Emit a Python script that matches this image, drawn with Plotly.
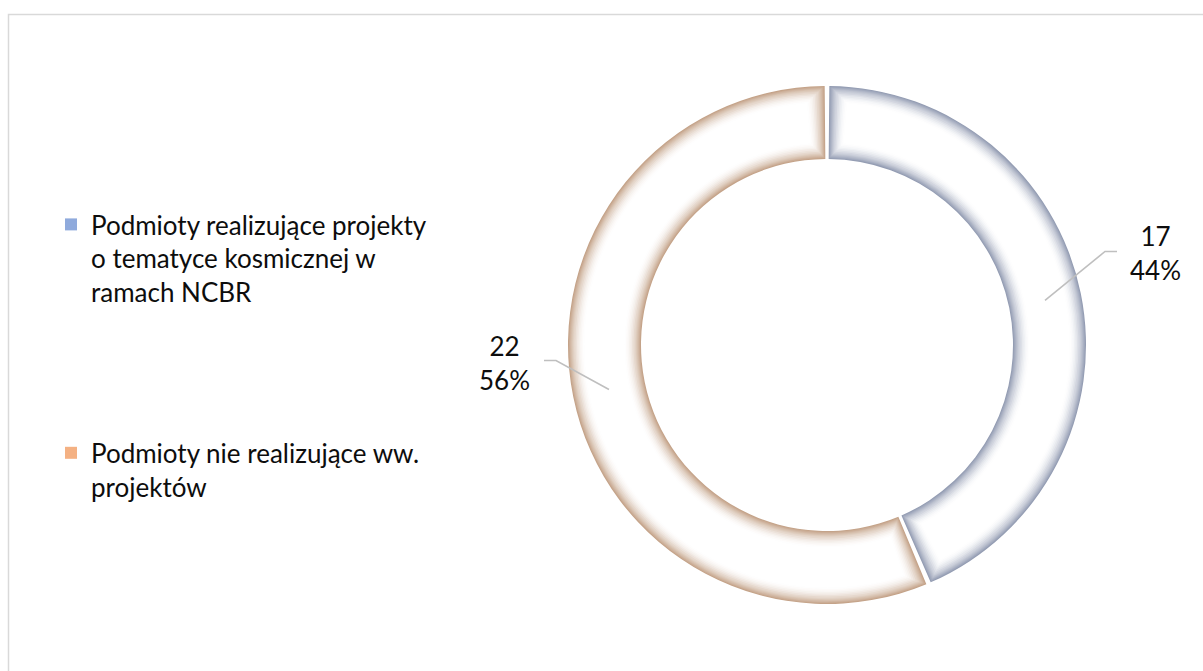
import math
import plotly.graph_objects as go

# --- data -------------------------------------------------------------
categories = [
    "Podmioty realizujące projekty<br>o tematyce kosmicznej w<br>ramach NCBR",
    "Podmioty nie realizujące ww.<br>projektów",
]
counts = [17, 22]
legend_colors = ["#8faadc", "#f4b183"]
edge_colors = ["#949db3", "#c4a389"]

# --- geometry (pixels) ------------------------------------------------
W, H = 1203, 671
CX, CY = 827, 345
R_OUT, R_IN = 259, 186
RHO = (R_OUT + R_IN) / 2
HALF_GAP = 2.0
FONT = "Lato, 'Open Sans', sans-serif"
FONT_SIZE = 26

# label placement relative to the ring point at each slice's mid-angle
label_offsets = [(110, -47), (-104, -27)]
bend_offsets = [(60, -49), (-53, -29)]
tail_len = 12

total = sum(counts)


def mix(hex_color, t):
    """Blend hex_color with white; t=1 gives the colour, t=0 white."""
    h = hex_color.lstrip("#")
    rgb = [int(h[i:i + 2], 16) for i in (0, 2, 4)]
    out = [round(255 + (c - 255) * t) for c in rgb]
    return "rgb({},{},{})".format(*out)


def paper(x, y):
    return x / W, 1 - y / H


def domain_for(radius, cx=CX, cy=CY):
    x0, y1 = paper(cx - radius, cy - radius)
    x1, y0 = paper(cx + radius, cy + radius)
    return dict(x=[x0, x1], y=[y0, y1])


fig = go.Figure()

# mid-angle of every slice (clockwise from 12 o'clock)
mid_angles = []
cum = 0
for v in counts:
    mid_angles.append(2 * math.pi * (cum + v / 2) / total)
    cum += v
mid_points = [(CX + RHO * math.sin(a), CY - RHO * math.cos(a)) for a in mid_angles]

# legend entries: one tiny pie per category, hidden beneath the ring
for i, (cat, v) in enumerate(zip(categories, counts)):
    mx, my = mid_points[i]
    fig.add_trace(go.Pie(
        labels=[cat], values=[v], marker=dict(colors=[legend_colors[i]]),
        domain=domain_for(0.4, mx, my), textinfo="none", sort=False,
        legendgroup=f"g{i}", showlegend=True, hoverinfo="skip",
    ))

# the doughnut: stacked rings, each inset a little more and lighter,
# which gives every slice a soft bevelled rim
insets = [0, 1, 2, 3, 4, 5, 6, 7.5, 9, 10.5, 12, 13.5, 15, 16.5]
d_max = insets[-1]
clear = "rgba(0,0,0,0)"
for d in insets:
    t = (1 - d / d_max) ** 1.9
    pad = (HALF_GAP + d) / RHO / (2 * math.pi) * total
    vals = [pad, counts[0] - 2 * pad, 2 * pad, counts[1] - 2 * pad, pad]
    cols = [clear, mix(edge_colors[0], t), clear, mix(edge_colors[1], t), clear]
    r_o = R_OUT - d
    fig.add_trace(go.Pie(
        labels=["p0", "s0", "p1", "s1", "p2"], values=vals,
        marker=dict(colors=cols, line=dict(width=0)),
        hole=(R_IN + d) / r_o, domain=domain_for(r_o),
        sort=False, direction="clockwise", rotation=0,
        textinfo="none", showlegend=False, hoverinfo="skip",
    ))

# data labels with leader lines
shapes = []
annotations = []
for i, v in enumerate(counts):
    sx, sy = mid_points[i]
    bx, by = sx + bend_offsets[i][0], sy + bend_offsets[i][1]
    ex = bx + (tail_len if bend_offsets[i][0] > 0 else -tail_len)
    p1, p2, p3 = paper(sx, sy), paper(bx, by), paper(ex, by)
    shapes.append(dict(
        type="path", xref="paper", yref="paper",
        path=f"M{p1[0]},{p1[1]} L{p2[0]},{p2[1]} L{p3[0]},{p3[1]}",
        line=dict(color="#bfbfbf", width=1.6),
    ))
    lx, ly = paper(sx + label_offsets[i][0], sy + label_offsets[i][1])
    pct = round(100 * v / total)
    annotations.append(dict(
        x=lx, y=ly, xref="paper", yref="paper", showarrow=False,
        text=f"{v}<br>{pct}%", xanchor="center", yanchor="middle",
        font=dict(family=FONT, size=FONT_SIZE, color="#0d0d0d"),
    ))

# chart frame
fx0, fy0 = paper(8.5, 14.5)
shapes.append(dict(
    type="rect", xref="paper", yref="paper", x0=fx0, y0=-0.05, x1=1.05, y1=fy0,
    line=dict(color="#d9d9d9", width=1.5), fillcolor="rgba(0,0,0,0)", layer="below",
))

lx0, ly0 = paper(51, 201)
fig.update_layout(
    width=W, height=H,
    margin=dict(l=0, r=0, t=0, b=0),
    paper_bgcolor="white", plot_bgcolor="white",
    showlegend=True,
    legend=dict(
        x=lx0, y=ly0, xanchor="left", yanchor="top",
        traceorder="grouped", tracegroupgap=124, valign="top",
        font=dict(family=FONT, size=FONT_SIZE, color="#0d0d0d"),
        bgcolor="rgba(0,0,0,0)", itemclick=False, itemdoubleclick=False,
    ),
    shapes=shapes,
    annotations=annotations,
)

fig.write_html("out.html")
